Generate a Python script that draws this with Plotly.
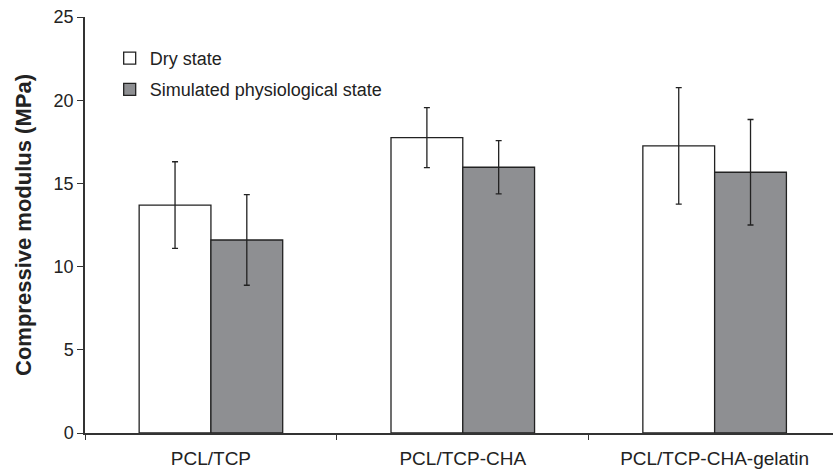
import plotly.graph_objects as go

categories = ["PCL/TCP", "PCL/TCP-CHA", "PCL/TCP-CHA-gelatin"]
dry_values = [13.7, 17.75, 17.25]
dry_err = [2.6, 1.8, 3.5]
wet_values = [11.6, 15.97, 15.67]
wet_err = [2.72, 1.6, 3.17]
y_ticks = [0, 5, 10, 15, 20, 25]

font = "Liberation Sans, Arial, sans-serif"

fig = go.Figure()
fig.add_trace(go.Bar(
    x=categories, y=dry_values, name="Dry state",
    marker=dict(color="white", line=dict(color="#222222", width=1.3)),
    error_y=dict(type="data", array=dry_err, color="#222222", thickness=1.3, width=3),
    legend="legend", showlegend=True,
))
fig.add_trace(go.Bar(
    x=categories, y=wet_values, name="Simulated physiological state",
    marker=dict(color="#8e8f92", line=dict(color="#222222", width=1.3)),
    error_y=dict(type="data", array=wet_err, color="#222222", thickness=1.3, width=3),
    legend="legend2", showlegend=True,
))

fig.update_layout(
    width=834, height=473,
    margin=dict(l=85, r=1, t=17, b=40),
    plot_bgcolor="white", paper_bgcolor="white",
    barmode="group", bargap=0.43, bargroupgap=0,
    showlegend=True,
    font=dict(family=font, size=18, color="#222222"),
    legend=dict(x=0.033, y=0.945, xanchor="left", yanchor="top", visible=True,
                bgcolor="rgba(0,0,0,0)", font=dict(size=18)),
    legend2=dict(x=0.033, y=0.870, xanchor="left", yanchor="top", visible=True,
                 bgcolor="rgba(0,0,0,0)", font=dict(size=18)),
    xaxis=dict(
        range=[-0.5, 2.47], showline=True, linecolor="#333333", linewidth=2,
        ticks="outside", tickson="boundaries", ticklen=5, tickcolor="#333333",
        showgrid=False, tickfont=dict(size=19), ticklabelstandoff=7,
    ),
    yaxis=dict(
        range=[0, 25], tickvals=y_ticks, showline=True, linecolor="#333333",
        linewidth=1.5, ticks="outside", ticklen=6, tickcolor="#333333",
        showgrid=False, zeroline=False, tickfont=dict(size=18),
        title=dict(text="<b>Compressive modulus (MPa)</b>", font=dict(size=22), standoff=16),
    ),
)

fig.write_html("out.html")
